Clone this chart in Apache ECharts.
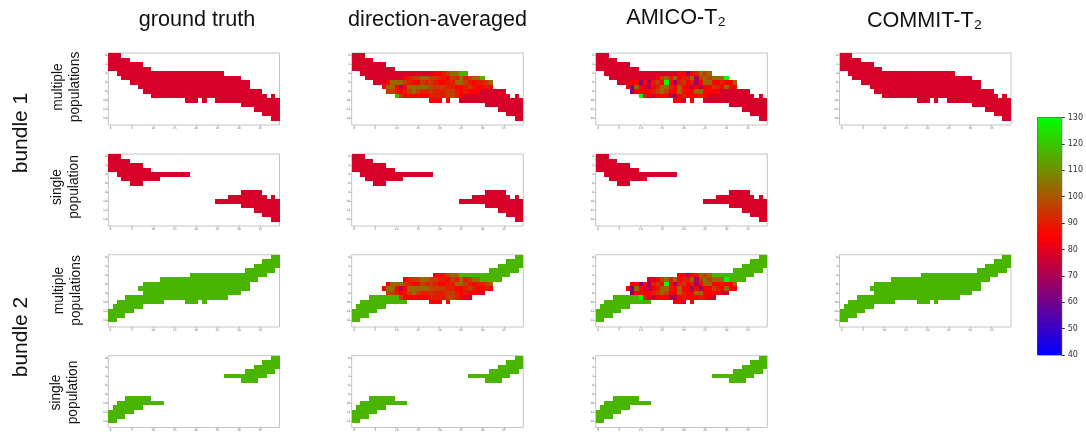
<!DOCTYPE html>
<html><head><meta charset="utf-8">
<script src="https://cdn.jsdelivr.net/npm/echarts@6/dist/echarts.min.js"></script>
<style>html,body{margin:0;padding:0;background:#fff}#c{width:1086px;height:432px}</style>
</head><body><div id="c"></div>
<script>
// T2 values (ms)
const t2Bundle1 = 78, t2Bundle2 = 117;
const t2Scale = { a:78, r:85, o:90, d:96, n:103, g:117, G:130, p:70, q:64 };
const colTitles = ['ground truth','direction-averaged','AMICO-T₂','COMMIT-T₂'];
const colorbarTicks = [40,130];
const xTicks = 40, yRows = 16;

// Occupied column spans per row (row index = position in the list)
const b1Multi = [[[0,2]],[[0,4]],[[0,7]],[[0,9]],[[2,26]],[[3,30]],[[5,32]],[[7,32]],[[8,35]],[[10,36],[38,38]],[[18,20],[22,22],[25,39]],[[31,39]],[[34,39]],[[36,39]],[[38,39]]];
const b1Single = [[[0,2]],[[0,4]],[[0,7]],[[0,9]],[[2,18]],[[3,11]],[[5,7]],[],[[31,35]],[[28,36],[38,38]],[[25,39]],[[31,39]],[[34,39]],[[36,39]],[[38,39]]];
const b2Multi = [[[38,39]],[[36,39]],[[34,39]],[[32,38]],[[19,36]],[[12,34]],[[8,32]],[[7,32]],[[8,30]],[[4,27]],[[2,12],[18,20],[22,22]],[[1,7]],[[0,5]],[[0,3]],[[0,1]]];
const b2Single = [[[38,39]],[[36,39]],[[34,39]],[[32,38]],[[27,36]],[[31,34]],[],[],[],[[4,9]],[[2,12]],[[1,7]],[[0,5]],[[0,3]],[[0,1]]];

// Estimated T2 in the crossing region: [row, first column, letters of t2Scale]
const avgCrossing = [
 [4,19,'rrodnngg'],
 [5,12,'roddnnddoordonodnng'],
 [6,8,'rnnndorrdodorroonndoroodn'],
 [7,7,'rnnrprnnnnnddddoorrodorror'],
 [8,8,'ddorodndoodoooddororrra'],
 [9,10,'gdrrrrrrooooddoraa'],
 [10,18,'rrr'],[10,22,'r']];
const amicoCrossing = [
 [4,19,'rrprondn'],
 [5,12,'aardnonroonpdndnnnG'],
 [6,8,'rrqrpodrGrpodroprnnrrorrn'],
 [7,7,'rqnrapronnornrrprprrdornrr'],
 [8,8,'qrrrrodndrrnorrnnrrrraa'],
 [9,10,'Goaarrrpprorrroraa'],
 [10,18,'rra'],[10,22,'r']];

function cells(spans, base, crossing){
  const m = new Map();
  spans.forEach((list,r)=>list.forEach(([a,b])=>{for(let c=a;c<=b;c++)m.set(c+','+r,base);}));
  (crossing||[]).forEach(([r,c0,s])=>{for(let i=0;i<s.length;i++)m.set((c0+i)+','+r,t2Scale[s[i]]);});
  return [...m].map(([k,v])=>{const [c,r]=k.split(',').map(Number);return [c,r,v];});
}

const colX = [[108.3,279.5],[351.7,523.3],[595.7,767.3],[839.5,1011]];
const rowY = [[53,125],[154,226],[254.7,327],[355.7,428]];
const panels = [
 [0,0,b1Multi,t2Bundle1,null],[1,0,b1Multi,t2Bundle1,avgCrossing],[2,0,b1Multi,t2Bundle1,amicoCrossing],[3,0,b1Multi,t2Bundle1,null],
 [0,1,b1Single,t2Bundle1,null],[1,1,b1Single,t2Bundle1,null],[2,1,b1Single,t2Bundle1,null],
 [0,2,b2Multi,t2Bundle2,null],[1,2,b2Multi,t2Bundle2,avgCrossing],[2,2,b2Multi,t2Bundle2,amicoCrossing],[3,2,b2Multi,t2Bundle2,null],
 [0,3,b2Single,t2Bundle2,null],[1,3,b2Single,t2Bundle2,null],[2,3,b2Single,t2Bundle2,null]];

const W=1086,H=432;
const grid=[],xAxis=[],yAxis=[],series=[];
const xCats=Array.from({length:xTicks},(_,i)=>String(i));
const yCats=Array.from({length:yRows},(_,i)=>String(i));
const faint={fontSize:3,color:'#666',margin:1.5,fontFamily:'DejaVu Sans'};
// One cell through the axes' scales, snapped to whole pixels so neighbouring cells leave no seams
const snap=(v)=>Math.round(Number(v.toFixed(2))+0.001);
function renderCell(params,api){
  const p=api.coord([api.value(0),api.value(1)]);
  const s=api.size([1,1]);
  const x0=snap(p[0]-s[0]/2), x1=snap(p[0]+s[0]/2);
  const y0=snap(p[1]-s[1]/2), y1=snap(p[1]+s[1]/2);
  return {type:'rect',shape:{x:x0,y:y0,width:x1-x0,height:y1-y0},style:{fill:api.visual('color')}};
}
panels.forEach(([c,r,spans,base,cross],i)=>{
  grid.push({left:colX[c][0],width:colX[c][1]-colX[c][0],top:rowY[r][0],height:rowY[r][1]-rowY[r][0],show:true,backgroundColor:'#fff',borderColor:'#c4c4c4',borderWidth:1});
  xAxis.push({type:'category',gridIndex:i,data:xCats,
    axisLine:{show:false},splitLine:{show:false},splitArea:{show:false},
    axisTick:{show:true,length:1.5,interval:(k)=>k%5===0,alignWithLabel:true,lineStyle:{color:'#888',width:0.5}},
    axisLabel:Object.assign({interval:(k)=>k%5===0},faint)});
  yAxis.push({type:'category',gridIndex:i,inverse:true,data:yCats,
    axisLine:{show:false},splitLine:{show:false},splitArea:{show:false},
    axisTick:{show:true,length:1.5,interval:(k)=>k%2===0,alignWithLabel:true,lineStyle:{color:'#888',width:0.5}},
    axisLabel:Object.assign({interval:(k)=>k%2===0},faint)});
  series.push({type:'custom',coordinateSystem:'cartesian2d',xAxisIndex:i,yAxisIndex:i,data:cells(spans,base,cross),
    encode:{x:0,y:1},renderItem:renderCell,silent:true,progressive:0,emphasis:{disabled:true}});
});
const heatIdx=series.map((_,i)=>i);
// colour bar
const n=panels.length;
grid.push({left:1037.5,width:27.5,top:117.5,height:237.5,show:true,borderColor:'#555',borderWidth:1,backgroundColor:'#fff'});
xAxis.push({type:'category',gridIndex:n,data:['T2'],show:false});
yAxis.push({type:'value',gridIndex:n,position:'right',min:colorbarTicks[0],max:colorbarTicks[1],interval:10,
  axisLine:{show:false},splitLine:{show:false},
  axisTick:{show:true,length:3,lineStyle:{color:'#333',width:1}},
  axisLabel:{fontSize:8,color:'#333',margin:6,fontFamily:'DejaVu Sans'}});
series.push({type:'bar',xAxisIndex:n,yAxisIndex:n,data:[colorbarTicks[1]],barWidth:'100%',silent:true,
  itemStyle:{color:{type:'linear',x:0,y:0,x2:0,y2:1,colorStops:[{offset:0,color:'#00ff00'},{offset:0.5,color:'#ff0000'},{offset:1,color:'#0000ff'}]}}});

const titleCx=[197,437.5,676,924.5], titleY=[20,20,18,21];
const graphics=[];
colTitles.forEach((t,i)=>graphics.push({type:'text',x:titleCx[i],y:titleY[i],silent:true,style:{text:t,fontFamily:'Liberation Sans',fontSize:21.6,fill:'#111',align:'center',verticalAlign:'middle'}}));
function vtext(t,x,y,size,lh){graphics.push({type:'text',x:x,y:y,rotation:Math.PI/2,silent:true,style:{text:t,fontFamily:'Liberation Sans',fontSize:size,lineHeight:lh,fill:'#111',align:'center',verticalAlign:'middle'}});}
vtext('bundle 1',21,133,21,24);
vtext('bundle 2',21,337,21,24);
vtext('multiple\npopulations',66.5,87,13.8,17);
vtext('single\npopulation',66,187,13.8,17);
vtext('multiple\npopulations',68,290.5,13.8,17);
vtext('single\npopulation',64.5,392.5,13.8,17);

const chart=echarts.init(document.getElementById('c'),null,{renderer:'canvas',width:W,height:H});
chart.setOption({animation:false,backgroundColor:'#fff',grid,xAxis,yAxis,series,graphic:graphics,
  visualMap:{show:false,type:'continuous',min:40,max:130,dimension:2,seriesIndex:heatIdx,calculable:false,inRange:{color:['#0000ff','#ff0000','#00ff00']}}});
</script></body></html>
